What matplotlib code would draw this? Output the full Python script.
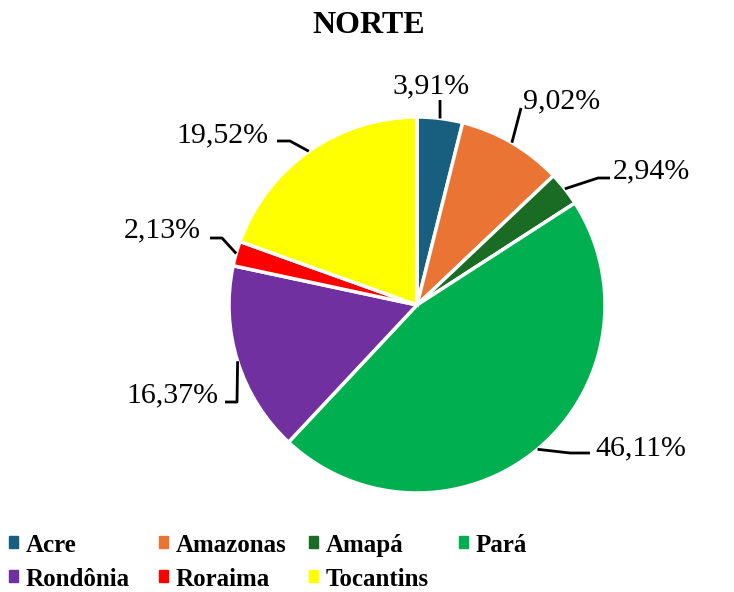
import matplotlib
matplotlib.use("Agg")
import matplotlib.pyplot as plt
import numpy as np
from matplotlib.patches import Rectangle

# data
states = ["Acre", "Amazonas", "Amapá", "Pará", "Rondônia", "Roraima", "Tocantins"]
shares = [3.91, 9.02, 2.94, 46.11, 16.37, 2.13, 19.52]
colors = ["#175E7F", "#EA7434", "#1A6B23", "#00B050", "#7030A0", "#FF0000", "#FFFF00"]
title = "NORTE"

W, H = 734, 592
plt.rcParams["font.family"] = ["Liberation Serif", "DejaVu Serif"]

fig = plt.figure(figsize=(W / 100, H / 100), dpi=100)
ax = fig.add_axes([0, 0, 1, 1])


def py(y):
    # pixel row (from top) -> data y
    return H - y


cx, cy, r = 417, py(305), 188
wedges, _ = ax.pie(shares, colors=colors, startangle=90, counterclock=False,
                   center=(cx, cy), radius=r, frame=True,
                   wedgeprops=dict(edgecolor="white", linewidth=2.5))
ax.set_xlim(0, W)
ax.set_ylim(0, H)
ax.set_aspect("equal")
ax.axis("off")

# label layout: elbow points (px) and text anchor (px, baseline)
label_layout = [
    ([(440, 100)], (431, 93), "center"),
    ([(521, 108)], (523, 108), "left"),
    ([(598, 178), (610, 178)], (613, 178), "left"),
    ([(570, 453), (590, 453)], (595, 455), "left"),
    ([(237, 402), (225, 402)], (218, 402), "right"),
    ([(222, 238), (210, 238)], (201, 237), "right"),
    ([(290, 141), (277, 141)], (268, 142), "right"),
]

for w, val, (elbows, (tx, ty), ha) in zip(wedges, shares, label_layout):
    ang = np.deg2rad((w.theta1 + w.theta2) / 2)
    ex, ey = cx + r * np.cos(ang), cy + r * np.sin(ang)
    xs = [ex] + [p[0] for p in elbows]
    ys = [ey] + [py(p[1]) for p in elbows]
    ax.plot(xs, ys, color="black", lw=2, solid_capstyle="butt")
    ax.text(tx, py(ty), f"{val:.2f}%".replace(".", ","), ha=ha, va="baseline",
            fontsize=21.5, color="black")

fig.text(369 / W, 1 - 33 / H, title, ha="center", va="baseline",
         fontsize=23, fontweight="bold")

# legend, 4 columns
for i, (name, c) in enumerate(zip(states, colors)):
    col, row = i % 4, i // 4
    x0 = 9 + col * 150
    yc = 542 + row * 34
    fig.patches.append(Rectangle((x0 / W, 1 - (yc + 6) / H), 9 / W, 12 / H,
                                 transform=fig.transFigure, color=c, figure=fig))
    fig.text((x0 + 17) / W, 1 - (yc + 10) / H, name, ha="left", va="baseline",
             fontsize=18, fontweight="bold")

fig.savefig("out.png", dpi=100)
